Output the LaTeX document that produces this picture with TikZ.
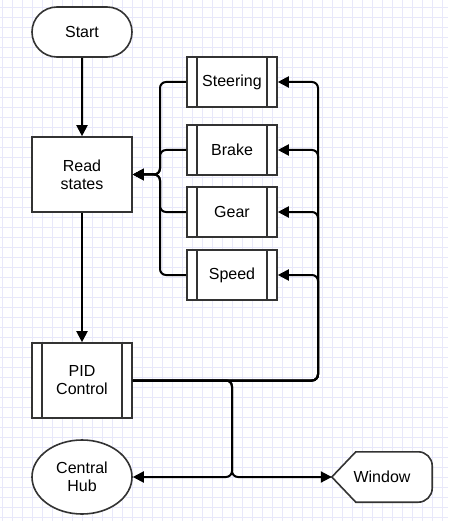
\documentclass[tikz,border=0pt]{standalone}
\usepackage{fontspec}
\setmainfont{Liberation Sans}
\usetikzlibrary{arrows.meta,positioning,shapes.geometric,shapes.misc}
\definecolor{gridline}{RGB}{232,232,250}
\definecolor{edge}{RGB}{51,51,51}

\begin{document}
\begin{tikzpicture}[
    x=1pt, y=-1pt,
    font=\fontsize{16}{18}\selectfont,
    >={Triangle[length=11pt,width=11pt]},
    blk/.style={draw=edge, fill=white, line width=1.6pt, align=center, inner sep=0pt},
    terminal/.style={blk, rounded rectangle, minimum width=100pt, minimum height=50pt},
    procbox/.style={blk, rectangle, minimum width=100pt, minimum height=75pt},
    subproc/.style={blk, rectangle, minimum width=90pt, minimum height=50pt,
        path picture={\draw[edge, line width=1.6pt]
            ([xshift=10pt]path picture bounding box.north west) -- ([xshift=10pt]path picture bounding box.south west)
            ([xshift=-10pt]path picture bounding box.north east) -- ([xshift=-10pt]path picture bounding box.south east);}},
    hubnode/.style={blk, ellipse, minimum width=100pt, minimum height=74pt},
    flow/.style={->, line width=2pt, rounded corners=6pt},
]

% Background grid
\useasboundingbox (0,0) rectangle (448,521);
\fill[white] (0,0) rectangle (448,521);
\foreach \x in {2,12,...,442}
    \draw[gridline, line width=0.8pt] (\x,0) -- (\x,521);
\foreach \y in {7,17,...,517}
    \draw[gridline, line width=0.8pt] (0,\y) -- (448,\y);

% Main column
\node[terminal] (start) at (82,32) {Start};
\node[procbox, below=78.4pt of start] (read) {Read\\states};
\node[subproc, minimum width=100pt, minimum height=75pt, below=129.4pt of read] (pid) {PID\\Control};
\node[hubnode, below=20.4pt of pid] (hub) {Central\\Hub};

% Sensor inputs
\node[subproc] (steer) at (232,82) {Steering};
\node[subproc, below=16.4pt of steer] (brake) {Brake};
\node[subproc, below=10.4pt of brake] (gear) {Gear};
\node[subproc, below=11.4pt of gear] (speed) {Speed};

% Window display
\node[minimum width=100pt, minimum height=50pt, inner sep=0pt] (win) at (382,477) {};
\draw[draw=edge, fill=white, line width=1.6pt] (win.west) -- ([xshift=24pt]win.north west)
    -- ([xshift=-14pt]win.north east) arc[start angle=90, end angle=0, radius=14pt]
    -- ([yshift=14pt]win.south east) arc[start angle=0, end angle=-90, radius=14pt]
    -- ([xshift=24pt]win.south west) -- cycle;
\node at (win) {Window};

% Bus points
\coordinate[right=27.2pt of read.east] (inbus);
\coordinate[right=185.2pt of pid.east] (outbus);
\coordinate (split) at (232,477);

% Arrows
\draw[flow] (start) -- (read);
\draw[flow] (read) -- (pid);
\foreach \s in {steer,brake,gear,speed}
    \draw[flow] (\s.west) -| (inbus) -- (read.east);
\foreach \s in {steer,brake,gear,speed}
    \draw[flow] (pid.east) -- (outbus) |- (\s.east);
\draw[flow] (pid.east) -| (split) -- (hub.east);
\draw[flow] (pid.east) -| (split) -- (win.west);

\end{tikzpicture}
\end{document}
